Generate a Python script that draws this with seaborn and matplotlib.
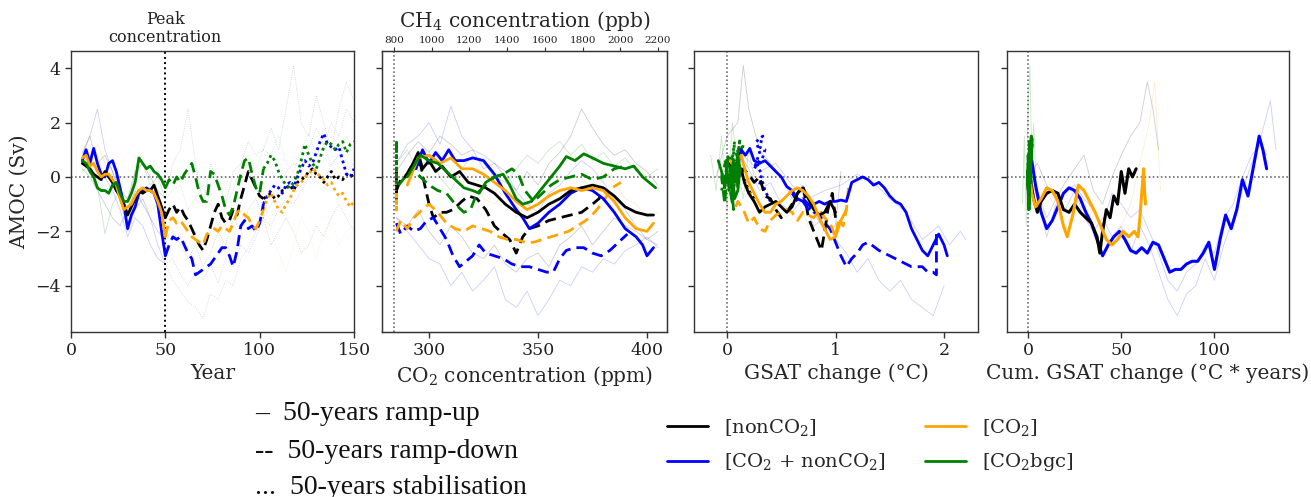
import matplotlib
matplotlib.use("Agg")
import matplotlib.pyplot as plt
import matplotlib.transforms as mtransforms
from matplotlib.lines import Line2D
import seaborn as sns

# ============================ DATA ============================
# ---- Panel 1: AMOC (Sv) vs year ----
yr_up = [6, 8, 10, 12, 14, 16, 18, 20, 22, 24, 26, 28, 30, 32, 34, 36, 38, 40, 42, 44, 46, 48, 50]
yr_down = [50, 52, 54, 56, 58, 60, 62, 64, 66, 68, 70, 72, 74, 76, 78, 80, 82, 84, 86, 88, 90, 92, 94, 96, 98, 100, 102]
yr_stab = [102, 104, 106, 108, 110, 112, 114, 116, 118, 120, 122, 124, 126, 128, 130, 132, 134, 136, 138, 140, 142, 144, 146, 148, 150]

p1_black_up = [0.5, 0.4, 0.3, 0.1, 0.0, -0.1, 0.2, 0.0, -0.2, -0.5, -0.7, -1.0, -1.4, -1.1, -0.8, -0.5, -0.6, -0.5, -0.5, -0.3, -0.7, -1.1, -1.5]
p1_blue_up = [0.6, 1.0, 0.5, 1.05, 0.5, 0.1, 0.0, 0.5, 0.6, 0.2, -0.4, -1.0, -1.9, -1.4, -1.1, -0.6, -0.5, -0.4, -0.5, -0.6, -1.0, -2.0, -2.9]
p1_orange_up = [0.7, 0.8, 0.4, 0.5, 0.2, 0.0, 0.1, 0.1, -0.1, -0.3, -0.8, -1.2, -1.1, -1.0, -0.7, -0.5, -0.4, -0.5, -0.5, -0.6, -0.9, -1.3, -2.2]
p1_green_up = [0.6, 0.5, 0.2, 0.0, -0.4, -0.5, -0.5, -0.6, -0.3, -0.2, -0.6, -0.9, -0.9, -0.6, -0.2, 0.7, 0.5, 0.3, 0.4, 0.2, 0.1, -0.1, -0.4]

p1_black_down = [-1.5, -1.2, -1.0, -1.3, -1.1, -1.4, -1.6, -1.9, -2.2, -2.5, -2.7, -2.3, -1.8, -1.3, -1.0, -1.5, -1.7, -1.6, -1.2, -1.4, -0.8, -0.3, 0.2, -0.1, -0.4, -0.7, -0.8]
p1_blue_down = [-2.9, -2.5, -2.2, -2.3, -2.2, -2.5, -2.8, -3.0, -3.6, -3.5, -3.4, -3.3, -3.2, -3.0, -2.8, -2.6, -2.6, -2.9, -3.3, -2.7, -1.8, -1.6, -1.9, -1.8, -2.0, -1.7, -1.0]
p1_orange_down = [-2.2, -1.6, -1.5, -1.7, -1.6, -1.8, -2.0, -2.2, -2.3, -2.4, -2.5, -2.1, -2.0, -1.9, -2.0, -1.8, -1.9, -2.0, -1.7, -1.3, -1.2, -1.4, -1.5, -1.8, -1.9, -1.6, -1.2]
p1_green_down = [-0.4, -0.1, -0.3, 0.0, -0.2, 0.1, 0.3, 0.5, 0.0, -0.6, -0.9, -0.9, 0.2, 0.1, -0.3, -0.7, -1.2, -1.4, -1.1, -0.5, 0.1, 0.6, 0.7, 0.1, -0.4, -0.6, 0.3]

p1_black_stab = [-0.8, -0.7, -0.6, -0.8, -0.7, -0.5, -0.4, -0.3, -0.5, -0.2, -0.1, 0.0, 0.2, 0.3, 0.1, 0.0, -0.2, 0.0, 0.2, -0.1, 0.0, -0.1, 0.1, 0.0, 0.1]
p1_blue_stab = [-1.0, -0.7, -0.5, -0.3, -0.4, -0.6, -0.3, -0.2, -0.4, 0.0, 0.3, 0.6, 0.4, 0.5, 0.9, 1.3, 1.6, 1.2, 1.1, 1.0, 1.1, 0.6, 0.1, 0.0, 0.3]
p1_orange_stab = [-1.2, -0.8, -0.6, -0.9, -1.2, -1.3, -1.0, -0.8, -0.5, -0.3, -0.2, 0.0, 0.1, 0.3, 0.2, 0.0, -0.1, -0.3, -0.2, -0.5, -0.7, -0.6, -0.9, -1.1, -0.9]
p1_green_stab = [0.3, 0.5, 0.8, 0.6, 0.2, -0.1, -0.3, -0.4, -0.2, 0.1, 0.6, 1.2, 0.8, 0.5, 0.3, 0.7, 1.1, 1.3, 1.2, 1.0, 1.2, 1.3, 0.9, 1.2, 1.3]

# individual ensemble members (thin lines), panel 1
yr_mem = [6, 10, 14, 18, 22, 26, 30, 34, 38, 42, 46, 50, 54, 58, 62, 66, 70, 74, 78, 82, 86, 90, 94, 98,
          102, 106, 110, 114, 118, 122, 126, 130, 134, 138, 142, 146, 150]
p1_mem_blue_a = [0.8, 1.5, 2.5, 1.0, 0.2, -0.8, -2.0, -1.2, -0.8, -1.5, -2.5, -3.2, -3.8, -4.2, -4.6, -4.8, -5.2, -4.3, -4.5,
                 -3.8, -4.0, -3.0, -2.6, -2.0, -1.5, -1.0, -0.5, 0.2, 0.5, 0.3, 1.0, 1.8, 1.2, 2.0, 1.5, 2.5, 2.0]
p1_mem_blue_b = [0.5, 0.8, 0.3, 0.0, -0.5, -1.2, -2.2, -1.5, -1.8, -2.5, -3.0, -3.2, -3.0, -3.6, -4.0, -3.5, -3.8, -3.2, -3.9,
                 -3.0, -3.3, -2.5, -2.8, -2.2, -1.5, -1.8, -1.2, -0.8, -1.0, -0.5, 0.0, 0.3, -0.2, 0.5, 0.8, 0.2, 0.5]
p1_mem_black_a = [0.9, 1.5, 0.5, 0.8, 0.2, -0.5, -0.8, 0.2, 0.5, 0.0, -0.5, -0.8, 0.5, 1.0, 2.5, 0.5, -1.0, 0.5, -0.2,
                  -1.0, 0.2, 0.5, 1.3, 0.8, 1.0, 1.8, 1.0, 2.5, 4.1, 2.0, 1.5, 3.0, 2.0, 1.0, 2.5, 3.5, 2.8]
p1_mem_black_b = [0.3, 0.0, -0.5, -1.0, -1.5, -1.8, -1.2, -0.5, -1.0, -1.5, -2.0, -2.3, -2.0, -2.5, -3.0, -2.5, -3.3, -2.8, -2.0,
                  -2.5, -1.5, -2.0, -1.2, -0.8, -1.5, -2.5, -2.0, -1.5, -2.0, -2.8, -2.5, -1.8, -2.2, -1.5, -1.0, -1.5, -2.0]
p1_mem_orange_a = [1.2, 0.8, 1.2, 0.5, -0.2, -0.5, -1.0, -0.3, -0.8, -1.3, -1.0, -2.0, -1.5, -2.3, -3.0, -2.0, -2.8, -2.5, -1.8,
                   -3.0, -2.2, -1.5, -1.8, -1.0, -0.5, -2.0, -2.8, -3.5, -2.5, -1.5, -2.0, -3.0, -2.0, -1.5, -2.5, -2.0, -1.8]
p1_mem_green_a = [0.2, 0.5, -0.3, -2.1, -1.0, -0.5, -1.3, 0.2, 0.5, -0.3, 0.0, -0.8, -0.5, -0.3, -1.2, -0.8, -0.3, -1.0, -1.8,
                  -1.0, -0.5, 0.5, 0.8, 0.3, 1.0, 0.8, 1.5, 0.5, 0.2, 1.0, 1.6, 0.8, 1.2, 0.4, 0.8, 1.5, 1.0]

peak_year = 50

# ---- Panel 2: AMOC vs CO2 concentration (ppm) ----
co2_preind = 284.0
co2_stab = 284.7
p2_x_black_up = [289, 292, 295, 297, 300, 303, 306, 310, 314, 318, 322, 326, 330, 335, 340, 345, 350, 355, 360, 365, 370, 375, 380, 385, 390, 395, 400, 403]
p2_black_up = [0.0, 0.4, 0.9, 0.3, 0.6, 0.2, 0.4, 0.0, 0.2, -0.2, -0.3, -0.4, -0.6, -1.0, -1.3, -1.5, -1.3, -1.0, -0.8, -0.5, -0.4, -0.3, -0.4, -0.7, -1.1, -1.3, -1.4, -1.4]
p2_x_blue_up = [294, 297, 300, 303, 306, 309, 312, 316, 320, 325, 330, 335, 340, 343, 346, 350, 355, 360, 365, 370, 375, 380, 385, 390, 395, 398, 400, 403]
p2_blue_up = [0.3, 1.0, 0.5, 0.9, 0.6, 1.0, 0.6, 0.6, 0.7, 0.6, 0.1, -0.6, -1.2, -1.5, -1.9, -1.7, -1.3, -1.0, -0.6, -0.4, -0.5, -0.8, -1.3, -1.9, -2.2, -2.5, -2.9, -2.6]
p2_x_orange_up = [290, 295, 300, 305, 310, 315, 320, 325, 330, 335, 340, 345, 350, 355, 360, 365, 370, 375, 380, 385, 390, 395, 400, 403]
p2_orange_up = [-0.3, 0.7, 0.8, 0.5, 0.7, 0.3, 0.3, 0.1, -0.2, -0.5, -0.9, -1.2, -1.0, -0.7, -0.5, -0.4, -0.5, -0.4, -0.5, -0.9, -1.5, -1.9, -2.0, -1.7]
p2_x_green_up = [290, 293, 296, 300, 304, 308, 312, 316, 320, 323, 326, 330, 334, 337, 340, 343, 347, 350, 353, 356, 360, 363, 367, 371, 375, 380, 385, 390, 394, 398, 401, 404]
p2_green_up = [0.0, 0.4, 0.8, 0.6, 0.5, 0.2, -0.1, -0.4, -0.5, -0.6, -0.2, 0.0, 0.1, -0.3, -0.8, -1.0, -0.9, -0.6, -0.3, 0.0, 0.4, 0.75, 0.6, 0.85, 0.7, 0.5, 0.4, 0.3, 0.4, 0.0, -0.2, -0.4]

p2_x_black_down = [285, 287, 290, 293, 296, 298, 300, 302, 305, 308, 311, 315, 318, 322, 326, 330, 334, 337, 340, 343, 346, 350, 355, 360, 365, 370, 375, 378, 380]
p2_black_down = [-0.5, -0.1, 0.1, 0.3, 0.5, -0.3, -1.0, -1.5, -1.3, -1.3, -1.2, -0.9, -0.7, -0.8, -1.2, -1.8, -2.1, -2.3, -2.8, -2.2, -1.9, -1.8, -1.6, -1.5, -1.4, -1.3, -1.0, -0.8, -0.5]
p2_x_blue_down = [285, 287, 290, 293, 296, 299, 302, 305, 308, 311, 314, 317, 320, 323, 326, 330, 334, 338, 342, 346, 350, 354, 357, 360, 363, 367, 371, 375, 379, 383, 387, 391]
p2_blue_down = [-1.7, -2.1, -1.8, -2.0, -1.9, -1.6, -1.5, -1.9, -2.3, -2.9, -3.3, -3.1, -2.9, -2.5, -2.8, -2.9, -3.0, -3.2, -3.3, -3.3, -3.4, -3.5, -3.5, -3.0, -2.7, -2.6, -2.6, -2.8, -2.9, -2.7, -2.4, -2.1]
p2_x_orange_down = [285, 287, 290, 293, 297, 300, 304, 308, 312, 316, 320, 324, 328, 332, 336, 340, 344, 348, 352, 356, 360, 364, 368, 372, 376, 380, 384, 388]
p2_orange_down = [-2.0, -1.6, -1.9, -1.5, -1.2, -1.0, -1.3, -1.7, -1.9, -2.0, -1.8, -1.9, -2.0, -2.2, -2.3, -2.3, -2.4, -2.4, -2.3, -2.2, -2.1, -2.0, -1.8, -1.6, -1.3, -0.9, -0.4, -0.2]
p2_x_green_down = [286, 289, 292, 296, 300, 304, 308, 312, 316, 319, 322, 326, 330, 334, 338, 341, 344, 348, 352, 356, 360, 365, 370, 375, 380, 385, 390]
p2_green_down = [-0.3, 0.0, 0.4, 0.0, -0.3, -0.5, -0.6, -1.0, -1.3, -1.2, -0.6, -0.3, 0.0, 0.1, 0.3, 0.1, -0.5, -0.9, -0.6, -0.3, -0.1, 0.0, 0.1, -0.1, 0.0, 0.3, 0.4]

p2_x_mem = [285, 290, 295, 300, 305, 310, 315, 320, 325, 330, 335, 340, 345, 350, 355, 360, 365, 370, 375, 380, 385, 390, 395, 400, 405]
p2_mem_blue_a = [-1.5, -2.0, -2.5, -3.0, -3.2, -4.0, -3.5, -4.2, -3.8, -3.3, -4.5, -4.8, -4.2, -5.1, -4.5, -3.8, -4.0, -3.3, -3.5, -3.0, -3.2, -2.7, -2.5, -2.2, -2.6]
p2_mem_blue_b = [0.5, 1.2, 1.5, 2.0, 1.2, 2.6, 1.5, 1.0, 0.8, 0.5, 0.2, -0.5, -1.0, -1.3, -0.6, -0.3, 0.2, 0.6, 0.3, -0.2, -0.8, -1.2, -1.8, -2.3, -2.5]
p2_mem_black_a = [0.2, 0.8, 1.3, 0.9, 1.5, 1.2, 0.8, 1.0, 0.3, 0.5, 0.0, -0.5, 0.2, -0.3, 0.5, 0.9, 1.5, 2.5, 1.8, 1.2, 0.8, 1.0, 0.5, 0.2, -0.3]
p2_mem_black_b = [-1.5, -1.8, -1.2, -2.0, -2.5, -1.8, -2.2, -2.8, -3.0, -2.5, -3.2, -3.5, -3.0, -2.8, -3.3, -2.5, -2.2, -1.8, -2.5, -2.0, -1.5, -1.8, -2.0, -2.3, -2.0]
p2_mem_orange_a = [-0.5, 0.0, 1.0, 0.5, 0.8, 0.3, -0.2, 0.0, -0.8, -1.0, -0.5, -1.5, -1.0, -1.8, -1.2, -0.8, -0.3, 0.0, -0.5, 0.3, -0.2, -0.8, -1.0, -1.5, -1.3]
p2_mem_green_a = [0.5, 1.0, 0.2, 0.8, 0.0, -0.5, 0.3, 0.8, 0.5, 0.0, -0.2, 0.3, 0.8, 0.5, 1.0, 1.3, 0.8, 1.2, 0.6, 0.9, 0.4, 0.7, 0.2, 0.0, 0.3]

ch4_ticks = [800, 1000, 1200, 1400, 1600, 1800, 2000, 2200]
ch4_range = [736, 2248]

# ---- Panel 3: AMOC vs GSAT change (degC) ----
p3_g_blue_up = [0.1, 0.13, 0.17, 0.21, 0.25, 0.3, 0.35, 0.4, 0.45, 0.5, 0.55, 0.6, 0.65, 0.7, 0.75, 0.8, 0.85, 0.9, 0.95, 1.0,
                1.05, 1.1, 1.15, 1.2, 1.25, 1.3, 1.35, 1.4, 1.45, 1.5, 1.55, 1.6, 1.65, 1.7, 1.75, 1.8, 1.85, 1.9, 1.95, 2.0, 2.03]
p3_blue_up = [0.4, 1.0, 0.8, 1.05, 0.6, 0.5, 0.6, 0.4, 0.2, 0.0, -0.35, -0.5, -0.8, -0.9, -1.2, -1.0, -0.9, -1.0, -0.9, -0.9,
              -0.85, -0.9, -0.2, -0.1, 0.0, -0.1, -0.3, -0.2, -0.4, -0.7, -0.9, -1.0, -1.3, -1.9, -2.3, -2.7, -2.9, -2.5, -2.1, -2.5, -2.9]
p3_g_blue_down = [1.93, 1.93, 1.9, 1.85, 1.8, 1.7, 1.6, 1.5, 1.4, 1.3, 1.25, 1.2, 1.15, 1.1, 1.05, 1.0, 0.95, 0.9, 0.85, 0.8, 0.75, 0.7, 0.65, 0.6]
p3_blue_down = [-2.1, -3.6, -3.5, -3.5, -3.3, -3.3, -3.1, -2.9, -2.7, -2.4, -2.5, -2.8, -3.0, -3.3, -2.9, -2.4, -1.9, -1.7, -1.4, -1.3, -1.0, -0.8, -0.9, -0.6]
p3_g_blue_stab = [0.4, 0.35, 0.33, 0.3, 0.32, 0.28, 0.3, 0.25, 0.3, 0.27, 0.33, 0.3, 0.35, 0.32, 0.3]
p3_blue_stab = [-0.9, -0.5, -0.2, -0.3, 0.1, 0.4, 0.6, 0.3, 0.9, 1.3, 1.5, 1.1, 1.0, 0.6, 0.5]

p3_g_black_up = [0.03, 0.07, 0.1, 0.13, 0.16, 0.2, 0.25, 0.3, 0.35, 0.4, 0.45, 0.5, 0.55, 0.6, 0.65, 0.7, 0.75, 0.8, 0.85, 0.9, 0.95, 1.0]
p3_black_up = [0.5, 0.3, 0.0, 0.3, -0.2, -0.6, -0.9, -1.3, -1.1, -1.0, -0.9, -1.1, -1.3, -1.1, -0.6, -0.4, -0.8, -1.2, -1.4, -1.3, -0.9, -1.3]
p3_g_black_down = [1.0, 0.97, 0.93, 0.9, 0.87, 0.83, 0.8, 0.75, 0.7, 0.65, 0.6, 0.55, 0.5, 0.45, 0.4, 0.35, 0.3, 0.25, 0.2, 0.15, 0.12]
p3_black_down = [-1.5, -0.6, -1.2, -2.0, -2.7, -2.3, -2.0, -1.5, -0.3, -0.6, -1.0, -1.3, -1.5, -1.2, -0.8, -0.7, 0.0, -0.2, 0.1, 0.3, 0.0]
p3_g_black_stab = [0.25, 0.2, 0.18, 0.15, 0.12, 0.1, 0.08, 0.1, 0.05]
p3_black_stab = [-0.8, -0.5, -0.3, 0.0, 0.3, -0.2, 0.0, 0.2, 0.0]

p3_g_orange_up = [0.03, 0.07, 0.1, 0.13, 0.17, 0.2, 0.25, 0.3, 0.35, 0.4, 0.45, 0.5, 0.55, 0.6, 0.65, 0.7, 0.75, 0.8, 0.85, 0.9, 0.95, 1.0, 1.05, 1.1]
p3_orange_up = [0.6, 0.3, 0.6, 0.8, 0.2, -0.2, -0.6, -1.0, -1.3, -1.3, -1.0, -0.9, -0.7, -0.5, -0.4, -0.5, -0.7, -1.0, -1.5, -1.9, -2.3, -2.2, -1.6, -1.2]
p3_g_orange_down = [1.12, 1.1, 1.07, 1.03, 1.0, 0.95, 0.9, 0.85, 0.8, 0.75, 0.7, 0.65, 0.6, 0.55, 0.5, 0.45, 0.4, 0.35, 0.3, 0.25, 0.2, 0.15, 0.1, 0.06]
p3_orange_down = [-0.4, -1.2, -1.8, -1.5, -2.2, -1.7, -1.5, -1.2, -1.5, -1.4, -1.3, -1.6, -1.3, -1.2, -1.3, -1.4, -1.6, -2.0, -1.9, -1.5, -1.7, -1.2, -0.9, -1.3]
p3_g_orange_stab = [0.3, 0.25, 0.2, 0.15, 0.1, 0.08, 0.05]
p3_orange_stab = [-1.3, -0.9, -0.5, 0.0, 0.3, -0.5, -1.0]

p3_g_green_up = [-0.08, -0.05, -0.02, 0.0, 0.02, 0.04, 0.06, 0.08, 0.1, 0.12, 0.1, 0.07, 0.05, 0.08, 0.11]
p3_green_up = [0.6, 0.2, -0.4, 0.3, -0.5, 0.1, 0.6, -0.2, 0.8, 0.3, -0.5, -0.8, 0.0, 0.5, 0.0]
p3_g_green_down = [0.1, 0.08, 0.05, 0.03, 0.06, 0.02, 0.0, -0.03, 0.01, -0.02, -0.05, -0.01, 0.03]
p3_green_down = [-0.4, 0.3, -0.9, 0.4, -1.2, -0.3, 0.5, -0.5, 0.8, -1.0, 0.0, 0.6, 0.2]
p3_g_green_stab = [-0.05, 0.0, 0.04, 0.02, 0.07, 0.05, 0.1, 0.08, 0.12, 0.1, 0.15, 0.13]
p3_green_stab = [-0.5, 0.3, 0.8, -0.2, 1.3, 0.4, 1.0, 0.2, 1.4, 0.7, 1.2, 0.8]

p3_g_mem_blue_a = [0.0, 0.1, 0.2, 0.3, 0.4, 0.5, 0.6, 0.7, 0.8, 0.9, 1.0, 1.1, 1.2, 1.3, 1.4, 1.5, 1.6, 1.7, 1.8, 1.9, 2.0]
p3_mem_blue_a = [0.5, 1.0, 0.3, -0.5, -0.2, -1.0, -1.3, -0.8, -1.8, -1.5, -2.3, -2.8, -3.5, -3.0, -3.8, -4.2, -3.8, -4.5, -4.8, -5.1, -4.0]
p3_g_mem_blue_b = [0.0, 0.15, 0.3, 0.45, 0.6, 0.75, 0.9, 1.05, 1.2, 1.35, 1.5, 1.65, 1.8, 1.95, 2.05, 2.15, 2.2]
p3_mem_blue_b = [0.3, 0.8, 0.2, 0.5, -0.3, -0.8, -0.5, -0.3, 0.1, -0.2, -0.8, -1.3, -2.3, -1.8, -2.5, -2.0, -2.3]
p3_g_mem_black = [-0.1, 0.0, 0.1, 0.15, 0.2, 0.3, 0.4, 0.5, 0.6, 0.7, 0.8, 0.9, 1.0, 1.05]
p3_mem_black = [0.0, 1.5, 2.0, 4.1, 2.5, 1.0, 0.5, 0.0, -0.8, -0.3, -1.3, -2.0, -1.8, 0.2]
p3_g_mem_orange = [-0.05, 0.05, 0.15, 0.25, 0.35, 0.45, 0.55, 0.65, 0.75, 0.85, 0.95, 1.05, 1.15]
p3_mem_orange = [-1.8, -0.5, 0.8, 0.2, -0.5, -1.2, -1.5, -0.8, -1.8, -2.3, -1.5, -1.0, -0.5]
p3_g_mem_green = [-0.15, -0.1, -0.05, 0.0, 0.05, 0.1, 0.15, 0.2, 0.25]
p3_mem_green = [0.8, -0.5, 1.5, -1.2, 2.0, 0.3, -0.8, 1.0, 0.0]

# ---- Panel 4: AMOC vs cumulative GSAT change (degC * years) ----
p4_c_blue = [1, 2, 4, 7, 10, 13, 16, 19, 22, 25, 28, 31, 34, 37, 40, 43, 46, 49, 52, 55, 58, 61, 64, 67, 70, 73, 76, 79, 82, 85,
             88, 91, 94, 97, 100, 103, 106, 109, 112, 115, 118, 121, 124, 126, 128]
p4_blue = [0.2, 0.6, -0.3, -1.3, -1.9, -1.6, -1.1, -0.6, -0.4, -0.5, -0.8, -1.3, -1.7, -2.3, -2.9, -2.5, -2.2, -2.0, -2.3, -2.7,
           -2.8, -2.6, -2.8, -2.4, -2.5, -3.0, -3.5, -3.4, -3.4, -3.2, -3.1, -3.1, -2.8, -2.4, -3.4, -2.3, -1.4, -1.9, -1.2, -0.1,
           -0.7, 0.4, 1.5, 1.0, 0.3]
p4_c_black = [1, 3, 5, 7, 10, 13, 16, 19, 22, 25, 28, 31, 34, 37, 38.5, 40, 42, 44, 46, 48, 50, 52, 54, 56, 58]
p4_black = [0.0, -0.8, -1.3, -0.9, -0.6, -0.5, -0.6, -1.2, -1.3, -1.0, -1.3, -1.5, -1.7, -2.2, -2.8, -2.0, -1.2, -1.5, -0.7, -1.0, 0.2, -0.6, 0.3, 0.0, 0.3]
p4_c_orange = [0.5, 2, 4, 7, 10, 13, 16, 19, 21, 24, 27, 30, 33, 36, 39, 42, 45, 48, 51, 54, 57, 59, 60, 61, 62, 62.5, 63]
p4_orange = [0.3, -0.6, -1.1, -0.8, -0.4, -0.5, -0.9, -1.8, -2.2, -1.4, -0.3, -0.5, -0.9, -1.3, -1.8, -2.3, -2.5, -2.3, -2.0, -2.2, -2.0, -2.2, -1.5, -0.6, 0.3, -0.5, -1.0]
p4_c_green = [0.0, 0.2, -0.3, 0.5, 0.1, 0.8, -0.2, 1.0, 0.4, 1.3, 0.7, 1.5, 0.9, 1.8, 1.2, 2.0, 1.6, 2.2]
p4_green = [0.5, -0.5, 0.2, -1.2, 0.8, -0.6, 0.0, 1.0, -1.0, 0.3, 1.3, -0.2, 0.6, 1.5, 0.2, 1.2, 0.7, 1.4]

p4_c_mem_blue_a = [0, 5, 10, 15, 20, 25, 30, 35, 40, 45, 50, 55, 60, 65, 70, 75, 80, 85, 90, 95, 100, 105, 110, 115, 120, 125, 130, 133]
p4_mem_blue_a = [0.5, -0.5, -1.5, -0.8, -1.2, -0.5, -1.5, -2.0, -1.5, -2.2, -1.8, -2.8, -1.8, -2.5, -3.5, -4.5, -5.1, -4.3, -4.0,
                 -3.0, -3.8, -2.5, -1.5, -0.5, 0.5, 1.5, 2.8, 1.0]
p4_c_mem_blue_b = [0, 5, 10, 15, 20, 25, 30, 35, 40, 45, 50, 55, 60, 65, 70, 75, 80, 85, 90, 95, 100, 105, 110, 115, 120, 125, 128]
p4_mem_blue_b = [0.3, -0.8, -2.2, -1.0, -0.5, -0.3, -0.8, -1.2, -1.8, -0.6, -1.0, -1.5, -1.2, -2.0, -2.8, -3.8, -4.2, -3.5, -3.2,
                 -2.5, -2.8, -1.5, -1.0, 0.0, 0.8, 1.2, 0.8]
p4_c_mem_black = [0, 5, 10, 15, 20, 25, 30, 35, 40, 45, 50, 55, 60, 64, 67, 70]
p4_mem_black = [0.0, 0.5, -0.3, -0.8, -0.2, 0.3, 0.8, -0.5, -1.0, 0.0, 0.8, 1.5, 2.0, 3.5, 2.5, 1.0]
p4_c_mem_orange = [0, 5, 10, 15, 20, 25, 30, 35, 40, 45, 50, 55, 60, 65, 68, 71]
p4_mem_orange = [0.2, -1.0, -0.5, -1.2, -2.0, -1.0, -0.5, -1.5, -2.3, -2.8, -1.8, -1.0, 0.5, 2.0, 3.5, -0.5]
p4_c_mem_green = [-3, -2, -1, 0, 1, 2, 3, 4]
p4_mem_green = [-1.0, 1.5, -1.8, 2.5, 4.1, 0.5, 2.0, 0.3]

scenario_labels = ['[nonCO$_2$]', '[CO$_2$ + nonCO$_2$]', '[CO$_2$]', '[CO$_2$bgc]']
scenario_colors = ['black', 'blue', 'orange', 'green']
phase_labels = ['–  50-years ramp-up', '--  50-years ramp-down', '...  50-years stabilisation']

# ============================ STYLE ============================
sns.set_style("ticks")
plt.rcParams['font.family'] = ['DejaVu Serif']
plt.rcParams['mathtext.fontset'] = 'dejavuserif'
plt.rcParams['axes.edgecolor'] = '#333333'
plt.rcParams['xtick.color'] = '#333333'
plt.rcParams['ytick.color'] = '#333333'
plt.rcParams['xtick.labelcolor'] = '#222222'
plt.rcParams['ytick.labelcolor'] = '#222222'

SOLID = '-'
DASH = (0, (4.0, 2.2))
DOT = (0, (1.0, 1.3))
THICK = 2.0
THIN = 0.6
THIN_ALPHA = 0.2
TICK_FS = 12.5
LABEL_FS = 14.5


def line(ax, x, y, color, ls=SOLID, lw=THICK, alpha=1.0, z=3):
    sns.lineplot(x=x, y=y, ax=ax, color=color, linestyle=ls, linewidth=lw, alpha=alpha,
                 sort=False, estimator=None, legend=False, zorder=z)


def split_member(xs, ys, cut1, cut2):
    a = [(x, y) for x, y in zip(xs, ys) if x <= cut1]
    b = [(x, y) for x, y in zip(xs, ys) if cut1 <= x <= cut2]
    c = [(x, y) for x, y in zip(xs, ys) if x >= cut2]
    return a, b, c


fig = plt.figure(figsize=(13.11, 4.97), dpi=100)
W, H = 1311.0, 497.0
top_px, bot_px = 51, 332
panels_px = [(71, 354), (382, 667), (694, 978), (1007, 1289)]
axes = []
for i, (l, r) in enumerate(panels_px):
    ax = fig.add_axes([l / W, 1 - bot_px / H, (r - l) / W, (bot_px - top_px) / H],
                      sharey=axes[0] if axes else None)
    axes.append(ax)
ax1, ax2, ax3, ax4 = axes

YLIM = (-5.7, 4.63)

# ---------------- Panel 1 ----------------
ax = ax1
members = [(p1_mem_blue_a, 'blue'), (p1_mem_blue_b, 'blue'), (p1_mem_black_a, 'black'),
           (p1_mem_black_b, 'black'), (p1_mem_orange_a, 'orange'), (p1_mem_green_a, 'green')]
for vals, col in members:
    a, b, c = split_member(yr_mem, vals, 50, 102)
    line(ax, [p[0] for p in a], [p[1] for p in a], col, SOLID, THIN, THIN_ALPHA, z=1)
    line(ax, [p[0] for p in b], [p[1] for p in b], col, ':', THIN, THIN_ALPHA, z=1)
    line(ax, [p[0] for p in c], [p[1] for p in c], col, ':', THIN, THIN_ALPHA, z=1)

for vals, col in [(p1_black_stab, 'black'), (p1_blue_stab, 'blue'), (p1_orange_stab, 'orange'), (p1_green_stab, 'green')]:
    line(ax, yr_stab, vals, col, DOT)
for vals, col in [(p1_black_down, 'black'), (p1_blue_down, 'blue'), (p1_orange_down, 'orange'), (p1_green_down, 'green')]:
    line(ax, yr_down, vals, col, DASH)
for vals, col in [(p1_blue_up, 'blue'), (p1_black_up, 'black'), (p1_orange_up, 'orange'), (p1_green_up, 'green')]:
    line(ax, yr_up, vals, col, SOLID)

ax.axvline(peak_year, color='black', linestyle=':', linewidth=1.4, zorder=2)
ax.set_xlim(0, 150)
ax.set_xticks([0, 50, 100, 150])
ax.set_xlabel('Year', fontsize=LABEL_FS, labelpad=3)
ax.set_ylabel('AMOC (Sv)', fontsize=LABEL_FS, labelpad=4)
trans = mtransforms.blended_transform_factory(ax.transData, ax.transAxes)
ax.text(peak_year, 1.018, 'Peak\nconcentration', transform=trans, ha='center', va='bottom',
        fontsize=11.5, linespacing=1.05, color='#222222')

# ---------------- Panel 2 ----------------
ax = ax2
for vals, col in [(p2_mem_blue_a, 'blue'), (p2_mem_blue_b, 'blue'), (p2_mem_black_a, 'black'),
                  (p2_mem_black_b, 'black'), (p2_mem_orange_a, 'orange'), (p2_mem_green_a, 'green')]:
    line(ax, p2_x_mem, vals, col, SOLID, THIN, THIN_ALPHA, z=1)

for vals, col in [(p1_black_stab, 'black'), (p1_orange_stab, 'orange'), (p1_green_stab, 'green')]:
    line(ax, [co2_stab] * len(vals), vals, col, DOT)
for xs, vals, col in [(p2_x_black_down, p2_black_down, 'black'), (p2_x_blue_down, p2_blue_down, 'blue'),
                      (p2_x_orange_down, p2_orange_down, 'orange'), (p2_x_green_down, p2_green_down, 'green')]:
    line(ax, xs, vals, col, DASH)
for xs, vals, col in [(p2_x_blue_up, p2_blue_up, 'blue'), (p2_x_black_up, p2_black_up, 'black'),
                      (p2_x_orange_up, p2_orange_up, 'orange'), (p2_x_green_up, p2_green_up, 'green')]:
    line(ax, xs, vals, col, SOLID)

ax.axvline(co2_preind, color='#555555', linestyle=':', linewidth=1.1, zorder=2)
ax.set_xlim(278.4, 409.2)
ax.set_xticks([300, 350, 400])
ax.set_xlabel('CO$_2$ concentration (ppm)', fontsize=LABEL_FS, labelpad=3)
axt = ax.twiny()
axt.set_xlim(*ch4_range)
axt.set_xticks(ch4_ticks)
axt.tick_params(axis='x', labelsize=7.5, length=3, pad=1.5)
axt.set_xlabel('CH$_4$ concentration (ppb)', fontsize=LABEL_FS, labelpad=6)

# ---------------- Panel 3 ----------------
ax = ax3
for xs, vals, col in [(p3_g_mem_blue_a, p3_mem_blue_a, 'blue'), (p3_g_mem_blue_b, p3_mem_blue_b, 'blue'),
                      (p3_g_mem_black, p3_mem_black, 'black'), (p3_g_mem_orange, p3_mem_orange, 'orange'),
                      (p3_g_mem_green, p3_mem_green, 'green')]:
    line(ax, xs, vals, col, SOLID, THIN, THIN_ALPHA, z=1)
for xs, vals, col in [(p3_g_black_stab, p3_black_stab, 'black'), (p3_g_orange_stab, p3_orange_stab, 'orange'),
                      (p3_g_blue_stab, p3_blue_stab, 'blue'), (p3_g_green_stab, p3_green_stab, 'green')]:
    line(ax, xs, vals, col, DOT)
for xs, vals, col in [(p3_g_blue_down, p3_blue_down, 'blue'), (p3_g_black_down, p3_black_down, 'black'),
                      (p3_g_orange_down, p3_orange_down, 'orange'), (p3_g_green_down, p3_green_down, 'green')]:
    line(ax, xs, vals, col, DASH)
for xs, vals, col in [(p3_g_blue_up, p3_blue_up, 'blue'), (p3_g_black_up, p3_black_up, 'black'),
                      (p3_g_orange_up, p3_orange_up, 'orange'), (p3_g_green_up, p3_green_up, 'green')]:
    line(ax, xs, vals, col, SOLID)
ax.axvline(0, color='#555555', linestyle=':', linewidth=1.1, zorder=2)
ax.set_xlim(-0.304, 2.313)
ax.set_xticks([0, 1, 2])
ax.set_xlabel('GSAT change (°C)', fontsize=LABEL_FS, labelpad=3)

# ---------------- Panel 4 ----------------
ax = ax4
for xs, vals, col in [(p4_c_mem_blue_a, p4_mem_blue_a, 'blue'), (p4_c_mem_blue_b, p4_mem_blue_b, 'blue'),
                      (p4_c_mem_black, p4_mem_black, 'black'), (p4_c_mem_orange, p4_mem_orange, 'orange'),
                      (p4_c_mem_green, p4_mem_green, 'green')]:
    line(ax, xs, vals, col, SOLID, THIN, THIN_ALPHA, z=1)
for xs, vals, col in [(p4_c_blue, p4_blue, 'blue'), (p4_c_black, p4_black, 'black'),
                      (p4_c_orange, p4_orange, 'orange'), (p4_c_green, p4_green, 'green')]:
    line(ax, xs, vals, col, SOLID, 2.2)
ax.axvline(0, color='#555555', linestyle=':', linewidth=1.1, zorder=2)
ax.set_xlim(-11.3, 140)
ax.set_xticks([0, 50, 100])
ax.set_xlabel('Cum. GSAT change (°C * years)', fontsize=LABEL_FS, labelpad=3)

# ---------------- common ----------------
for i, ax in enumerate(axes):
    ax.axhline(0, color='#555555', linestyle=':', linewidth=1.1, zorder=2)
    ax.set_ylim(*YLIM)
    ax.set_yticks([-4, -2, 0, 2, 4])
    ax.tick_params(axis='both', labelsize=TICK_FS, length=4, width=1.0, direction='out')
    if i > 0:
        ax.tick_params(axis='y', labelleft=False)
        ax.set_ylabel('')
    for sp in ax.spines.values():
        sp.set_linewidth(1.0)
        sp.set_color('#333333')

# ---------------- legends ----------------
for txt, ypx in zip(phase_labels, [413, 452, 487]):
    fig.text(255 / W, 1 - ypx / H, txt, family='Liberation Serif', fontsize=20, va='center', ha='left',
             color='#111111')

handles = [Line2D([], [], color=c, linewidth=2.0) for c in scenario_colors]
fig.legend(handles, scenario_labels,
           loc='center left', bbox_to_anchor=(667 / W, 1 - 445 / H), ncol=2, frameon=False,
           fontsize=14, handlelength=2.1, handletextpad=0.85, columnspacing=2.0,
           labelspacing=0.7, borderpad=0, borderaxespad=0)

fig.savefig('out.png', dpi=100)
